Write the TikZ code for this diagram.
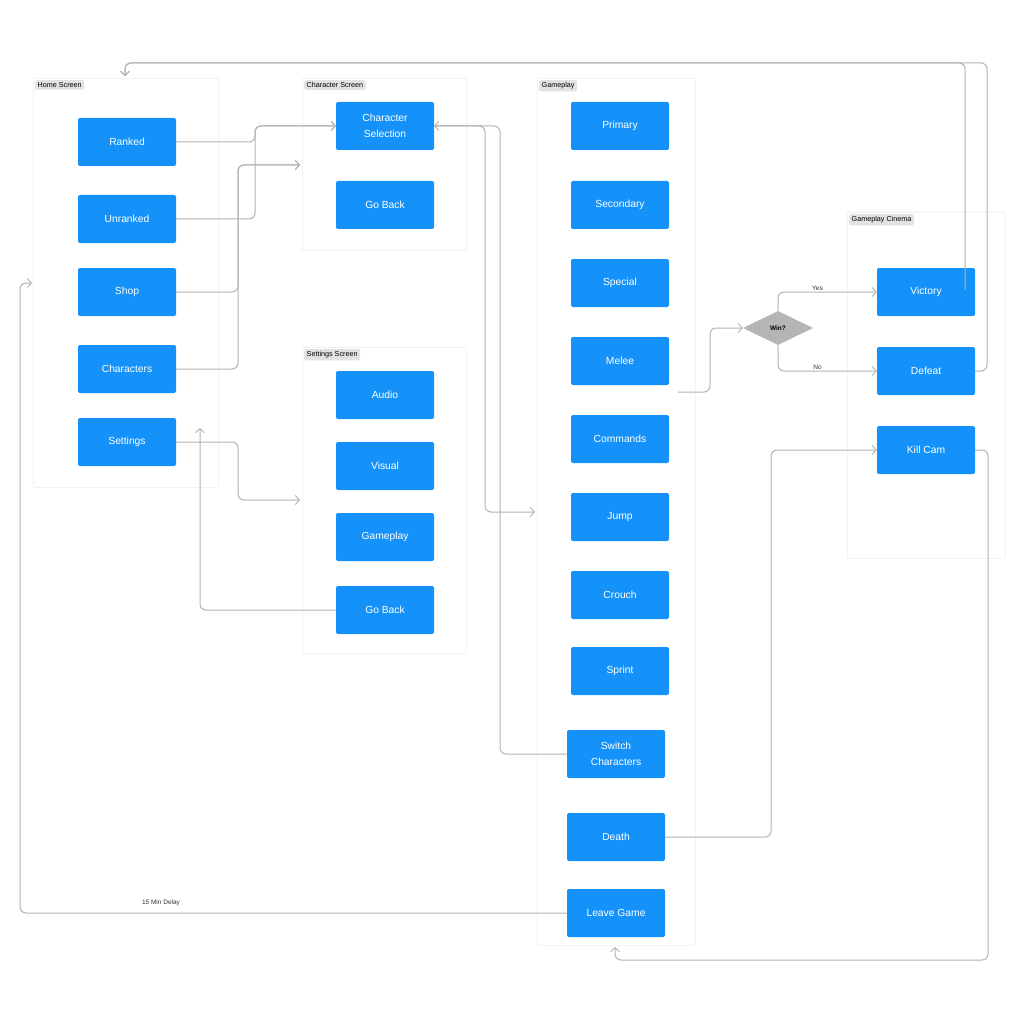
\documentclass[tikz,border=0pt]{standalone}
\usepackage{fontspec}
\setmainfont{Liberation Sans}
\usetikzlibrary{arrows.meta,shapes.geometric}
\definecolor{boxblue}{HTML}{1592F9}
\definecolor{linegray}{HTML}{B3B3B3}
\definecolor{grpline}{HTML}{ECECEC}
\definecolor{taggray}{HTML}{E2E2E2}
\definecolor{diagray}{HTML}{B5B5B5}
\begin{document}
\begin{tikzpicture}[x=1pt,y=-1pt,
 box/.style={fill=boxblue, rounded corners=2pt, minimum width=98pt, minimum height=48pt, text=white, font=\fontsize{10.3}{16}\selectfont, align=center, inner sep=0pt},
 grp/.style={draw=grpline, line width=0.6pt, rounded corners=2pt, anchor=north west, inner sep=0pt},
 tag/.style={fill=taggray, rounded corners=2pt, font=\fontsize{7.2}{8}\selectfont, inner xsep=2.5pt, inner ysep=2.2pt, anchor=north west},
 conn/.style={draw=linegray, line width=1pt, rounded corners=6pt},
 arr/.style={conn, -{Straight Barb[length=4pt,width=9pt,line width=0.9pt]}},
 lbl/.style={font=\fontsize{6.5}{7}\selectfont, text=black!80, inner sep=1pt},
]
\useasboundingbox (0,0) rectangle (1024,1024);
\fill[white] (0,0) rectangle (1024,1024);

% groups
\node[grp, minimum width=185pt, minimum height=409pt] (home) at (33,78) {};
\node[grp, minimum width=164pt, minimum height=172pt] (charscr) at (302,78) {};
\node[grp, minimum width=164pt, minimum height=306pt] (setscr) at (302,347) {};
\node[grp, minimum width=158pt, minimum height=867pt] (game) at (537,78) {};
\node[grp, minimum width=158pt, minimum height=346pt] (cinema) at (847,212) {};
\node[tag] (thome) at (35,80) {Home Screen};
\node[tag] (tchar) at (304,80) {Character Screen};
\node[tag] (tset) at (304,349) {Settings Screen};
\node[tag] (tgame) at (539,80) {Gameplay};
\node[tag] (tcin) at (849,214) {Gameplay Cinema};

% free ends
\coordinate (melout) at (678,392);
\coordinate (vicin) at (965,290);
\coordinate (homein) at (125,76);
\coordinate (homeleft) at (32,283);
\coordinate (charscrin) at (300,165);
\coordinate (setscrin) at (300,500);
\coordinate (setup) at (200,428);
\coordinate (gamein) at (535,512);
\coordinate (gamebot) at (615,947);

% home nodes
\node[box] (ranked) at (127,142) {Ranked};
\node[box] (unranked) at (127,219) {Unranked};
\node[box] (shop) at (127,292) {Shop};
\node[box] (chars) at (127,369) {Characters};
\node[box] (settings) at (127,442) {Settings};
% character screen
\node[box] (charsel) at (385,126) {Character\\Selection};
\node[box] (cgoback) at (385,205) {Go Back};
% settings screen
\node[box] (audio) at (385,395) {Audio};
\node[box] (visual) at (385,466) {Visual};
\node[box] (sgameplay) at (385,537) {Gameplay};
\node[box] (sgoback) at (385,610) {Go Back};
% gameplay
\node[box] (primary) at (620,126) {Primary};
\node[box] (secondary) at (620,205) {Secondary};
\node[box] (special) at (620,283) {Special};
\node[box] (melee) at (620,361) {Melee};
\node[box] (commands) at (620,439) {Commands};
\node[box] (jump) at (620,517) {Jump};
\node[box] (crouch) at (620,595) {Crouch};
\node[box] (sprint) at (620,671) {Sprint};
\node[box] (switch) at (616,754) {Switch\\Characters};
\node[box] (death) at (616,837) {Death};
\node[box] (leave) at (616,913) {Leave Game};
% cinema
\node[box] (victory) at (926,292) {Victory};
\node[box] (defeat) at (926,371) {Defeat};
\node[box] (killcam) at (926,450) {Kill Cam};
% decision
\node[diamond, fill=diagray, minimum width=70pt, minimum height=34pt, inner sep=0pt, font=\bfseries\fontsize{6.5}{7}\selectfont] (win) at (778,328) {Win?};

% connectors
\draw[arr] (ranked.east) -- (255,142) -- (255,126) -- (charsel.west);
\draw[arr] (unranked.east) -- (255,219) -- (255,126) -- (charsel.west);
\draw[arr] (shop.east) -- (238,292) -- (238,165) -- (charscrin);
\draw[arr] (chars.east) -- (238,369) -- (238,165) -- (charscrin);
\draw[arr] (settings.east) -- (238,442) -- (238,500) -- (setscrin);
\draw[arr] (sgoback.west) -- (200,610) -- (setup);
\draw[arr] (switch.west) -- (500,754) -- (500,126) -- (charsel.east);
\draw[arr] (charsel.east) -- (485,126) -- (485,512) -- (gamein);
\draw[arr] (melout) -- (710,392) -- (710,328) -- (win.west);
\draw[arr] (win.north) -- (778,292) -- node[lbl, above, pos=0.4] (lyes) {Yes} (victory.west);
\draw[arr] (win.south) -- (778,371) -- node[lbl, above, pos=0.4] (lno) {No} (defeat.west);
\draw[arr] (death.east) -- (771,837) -- (771,450) -- (killcam.west);
\draw[arr] (killcam.east) -- (988,450) -- (988,960) -- (615,960) -- (gamebot);
\draw[arr] (vicin) -- (965,63) -- (125,63) -- (homein);
\draw[arr] (defeat.east) -- (987,371) -- (987,63) -- (125,63) -- (homein);
\draw[arr] (leave.west) -- (20,913) -- (20,283) -- (homeleft);
\node[lbl] (delay) at (161,903) {15 Min Delay};
\end{tikzpicture}
\end{document}
